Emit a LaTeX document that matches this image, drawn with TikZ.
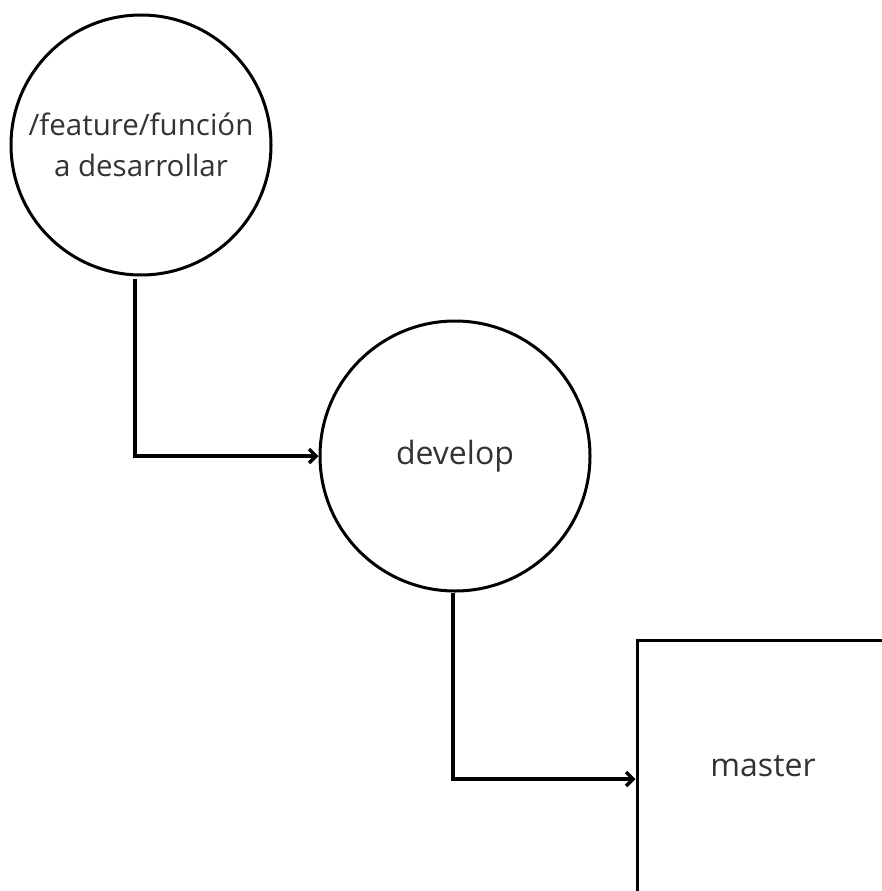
\documentclass[tikz,border=0pt]{standalone}
\usepackage{fontspec}
\setmainfont{Open Sans}
\usetikzlibrary{arrows.meta}
\begin{document}
\begin{tikzpicture}[x=1pt,y=1pt,
  bubble/.style={circle,draw=black,line width=3pt,inner sep=0pt,align=center,
    font=\fontsize{29.5}{41}\selectfont,text=black!80},
  squarebox/.style={rectangle,draw=black,line width=3pt,inner sep=0pt,minimum size=252pt,
    font=\fontsize{32}{41}\selectfont,text=black!80},
  flow/.style={line width=4pt,-{Straight Barb[length=7pt,width=14pt,line width=3.5pt]}}]
\useasboundingbox (0,0) rectangle (882,-891);
\fill[white] (0,0) rectangle (882,-891);
\node[bubble,minimum size=260pt] (c1) at (141,-145) {/feature/función\\a desarrollar};
\node[bubble,minimum size=270pt,font=\fontsize{32}{41}\selectfont] (c2) at (455,-456) {develop};
\node[squarebox] (m) at (763,-766) {master};
\draw[flow] ([xshift=-6pt,yshift=-2pt]c1.south) |- (c2.west);
\draw[flow] ([xshift=-2pt]c2.south) |- ([yshift=-13pt]m.west);
\end{tikzpicture}
\end{document}
